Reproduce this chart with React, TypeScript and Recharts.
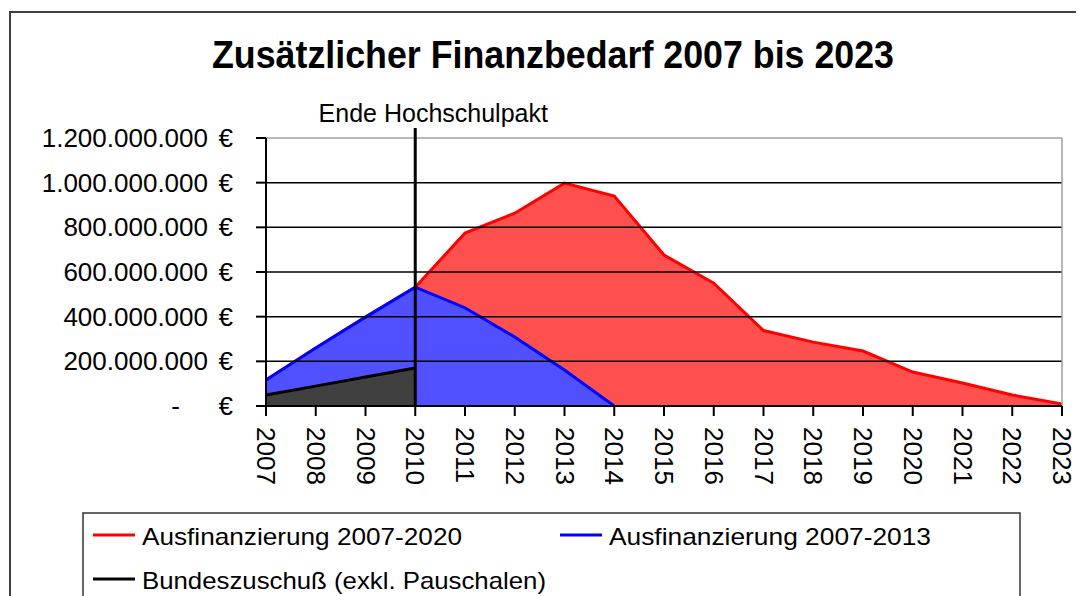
import React from "react";
import { AreaChart, Area, XAxis, YAxis, ReferenceLine } from "recharts";

const years = ["2007", "2008", "2009", "2010", "2011", "2012", "2013", "2014", "2015", "2016", "2017", "2018", "2019", "2020", "2021", "2022", "2023"];

// Ausfinanzierung 2007-2020 (red)
const red2020 = [116e6, 260e6, 398e6, 532e6, 774e6, 863e6, 998e6, 940e6, 676e6, 550e6, 338e6, 286e6, 246e6, 152e6, 103e6, 49e6, 9e6];
// Ausfinanzierung 2007-2013 (blue)
const blue2013 = [116e6, 260e6, 398e6, 532e6, 440e6, 309e6, 161e6, 0, null, null, null, null, null, null, null, null, null];
// Bundeszuschuss (black)
const bund = [49e6, 89e6, 130e6, 170e6, null, null, null, null, null, null, null, null, null, null, null, null, null];

const yTicks = [0, 200e6, 400e6, 600e6, 800e6, 1000e6, 1200e6];
const gridValues = [200e6, 400e6, 600e6, 800e6, 1000e6];

const data = years.map((y, i) => ({ year: y, red: red2020[i], blue: blue2013[i], bund: bund[i] }));

const FONT = "'Liberation Sans', Arial, sans-serif";

const fmt = (v: number) => String(Math.round(v)).replace(/\B(?=(\d{3})+(?!\d))/g, ".");

function YTick(props: any) {
  const { x, y, payload } = props;
  const v = payload.value as number;
  return (
    <g fontFamily={FONT} fontSize={26} fill="#000">
      {v === 0 ? (
        <text x={x - 76} y={y} dy="0.35em" textAnchor="end">-</text>
      ) : (
        <text x={x - 48} y={y} dy="0.35em" textAnchor="end">{fmt(v)}</text>
      )}
      <text x={x - 23} y={y} dy="0.35em" textAnchor="end">€</text>
    </g>
  );
}

function XTick(props: any) {
  const { x, y, payload } = props;
  const ty = y + 11;
  return (
    <text x={x} y={ty} transform={`rotate(90, ${x}, ${ty})`} textAnchor="start" dominantBaseline="central" fontFamily={FONT} fontSize={26} fill="#000">
      {payload.value}
    </text>
  );
}

function PaktLabel(props: any) {
  const vb = props.viewBox || {};
  return (
    <text x={vb.x + 18} y={vb.y - 6} textAnchor="middle" fontFamily={FONT} fontSize={25} fill="#000">
      Ende Hochschulpakt
    </text>
  );
}

const legendItems = [
  { label: "Ausfinanzierung 2007-2020", color: "#ff0000", x: 85, y: 527, len: 320 },
  { label: "Ausfinanzierung 2007-2013", color: "#0000ff", x: 552, y: 527, len: 322 },
  { label: "Bundeszuschuß (exkl. Pauschalen)", color: "#000000", x: 85, y: 571, len: 404 },
];

export default function App() {
  return (
    <div style={{ position: "relative", width: 1076, height: 588, overflow: "hidden", background: "#fff" }}>
      <div style={{ position: "absolute", left: 1, top: 3, width: 1100, height: 620, borderLeft: "2px solid #404040", borderTop: "2px solid #404040" }} />
      <div style={{ position: "absolute", left: 0, top: 0 }}>
        <AreaChart width={1076} height={588} data={data} margin={{ top: 130, right: 22, left: 0, bottom: 110 }}>
          <XAxis
            dataKey="year"
            interval={0}
            height={80}
            tick={<XTick />}
            tickSize={10}
            tickMargin={0}
            axisLine={{ stroke: "#000", strokeWidth: 2 }}
            tickLine={{ stroke: "#000", strokeWidth: 2 }}
          />
          <YAxis
            width={258}
            domain={[0, 1200e6]}
            ticks={yTicks}
            interval={0}
            tick={<YTick />}
            tickSize={10}
            tickMargin={0}
            axisLine={{ stroke: "#000", strokeWidth: 2 }}
            tickLine={{ stroke: "#000", strokeWidth: 2 }}
          />
          <Area type="linear" dataKey="red" stroke="#ff0000" strokeWidth={3} fill="#ff5050" fillOpacity={1} isAnimationActive={false} dot={false} activeDot={false} />
          <Area type="linear" dataKey="blue" stroke="#0000ff" strokeWidth={3} fill="#5050ff" fillOpacity={1} isAnimationActive={false} dot={false} activeDot={false} />
          <Area type="linear" dataKey="bund" stroke="#000000" strokeWidth={3} fill="#404040" fillOpacity={1} isAnimationActive={false} dot={false} activeDot={false} />
          {gridValues.map((v) => (
            <ReferenceLine key={v} y={v} stroke="#000" strokeWidth={1.5} />
          ))}
          <ReferenceLine y={1200e6} stroke="#a0a0a0" strokeWidth={1.5} />
          <ReferenceLine x="2023" stroke="#a0a0a0" strokeWidth={1.5} />
          <ReferenceLine
            segment={[{ x: "2010", y: 1245e6 }, { x: "2010", y: 0 }]}
            ifOverflow="visible"
            stroke="#000"
            strokeWidth={3}
            label={PaktLabel}
          />
        </AreaChart>
      </div>
      <svg width={1076} height={588} style={{ position: "absolute", left: 0, top: 0, pointerEvents: "none" }}>
        <text x={545} y={60} textAnchor="middle" fontFamily={FONT} fontWeight="bold" fontSize={38} textLength={682} lengthAdjust="spacingAndGlyphs" fill="#000">
          Zusätzlicher Finanzbedarf 2007 bis 2023
        </text>
        <rect x={75} y={505} width={937} height={120} fill="none" stroke="#333" strokeWidth={1.5} />
        {legendItems.map((it) => (
          <g key={it.label}>
            <line x1={it.x} x2={it.x + 42} y1={it.y} y2={it.y} stroke={it.color} strokeWidth={3} />
            <text x={it.x + 49} y={it.y + 10} fontFamily={FONT} fontSize={24} textLength={it.len} lengthAdjust="spacingAndGlyphs" fill="#000">
              {it.label}
            </text>
          </g>
        ))}
      </svg>
    </div>
  );
}
